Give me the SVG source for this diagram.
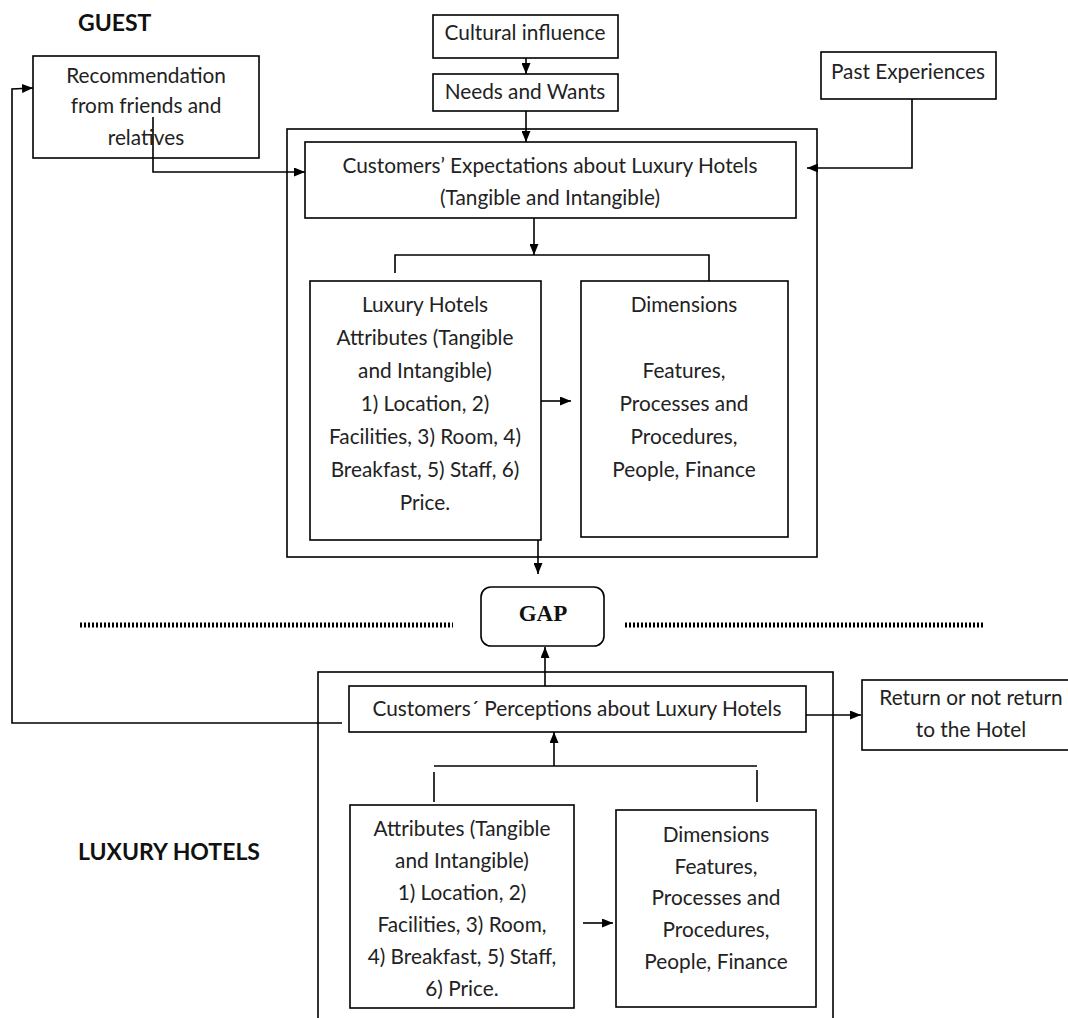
<svg xmlns="http://www.w3.org/2000/svg" width="1068" height="1018" viewBox="0 0 1068 1018">
<defs>
<style>
.box{fill:#fff;stroke:#000;stroke-width:1.6}
.frame{fill:none;stroke:#000;stroke-width:1.6}
.t{font-family:Lato,"Liberation Sans",sans-serif;font-size:20.8px;fill:#222;text-anchor:middle}
.h{font-family:Lato,"Liberation Sans",sans-serif;font-size:23px;font-weight:bold;fill:#111}
.gap{font-family:"Liberation Serif",serif;font-size:23px;font-weight:bold;fill:#111;text-anchor:middle}
.c{fill:none;stroke:#000;stroke-width:1.6}
.dot{fill:none;stroke:#000;stroke-width:5;stroke-dasharray:2 2}
</style>
<marker id="ah" viewBox="0 0 11 9" refX="11" refY="4.5" markerWidth="11" markerHeight="9" markerUnits="userSpaceOnUse" orient="auto">
<path d="M0,0 L11,4.5 L0,9 z" fill="#000"/>
</marker>
</defs>
<rect width="1068" height="1018" fill="#fff"/>

<g id="labels">
<text class="h" x="78" y="31">GUEST</text>
<text class="h" x="78" y="860">LUXURY HOTELS</text>
</g>

<g id="frames">
<rect class="frame" x="287" y="129" width="530" height="428"/>
<rect class="frame" x="318" y="672" width="515" height="380"/>
</g>

<g id="recommendation">
<rect class="box" x="33" y="56" width="226" height="102"/>
<text class="t" x="146" y="83">Recommendation</text>
<text class="t" x="146" y="113">from friends and</text>
<text class="t" x="146" y="145">relatives</text>
</g>

<g id="cultural">
<rect class="box" x="433" y="15" width="185" height="43"/>
<text class="t" x="525" y="40">Cultural influence</text>
</g>

<g id="needs">
<rect class="box" x="433" y="74" width="185" height="37"/>
<text class="t" x="525" y="99">Needs and Wants</text>
</g>

<g id="past">
<rect class="box" x="821" y="52" width="175" height="47"/>
<text class="t" x="908" y="79">Past Experiences</text>
</g>

<g id="expectations">
<rect class="box" x="305" y="142" width="491" height="76"/>
<text class="t" x="550" y="173">Customers’ Expectations about Luxury Hotels</text>
<text class="t" x="550" y="205">(Tangible and Intangible)</text>
</g>

<g id="attributes-top">
<rect class="box" x="310" y="281" width="231" height="259"/>
<text class="t" x="425" y="312">Luxury Hotels</text>
<text class="t" x="425" y="345">Attributes (Tangible</text>
<text class="t" x="425" y="378">and Intangible)</text>
<text class="t" x="425" y="411">1) Location, 2)</text>
<text class="t" x="425" y="444">Facilities, 3) Room, 4)</text>
<text class="t" x="425" y="477">Breakfast, 5) Staff, 6)</text>
<text class="t" x="425" y="510">Price.</text>
</g>

<g id="dimensions-top">
<rect class="box" x="581" y="281" width="207" height="256"/>
<text class="t" x="684" y="312">Dimensions</text>
<text class="t" x="684" y="378">Features,</text>
<text class="t" x="684" y="411">Processes and</text>
<text class="t" x="684" y="444">Procedures,</text>
<text class="t" x="684" y="477">People, Finance</text>
</g>

<g id="gap">
<rect class="box" x="481" y="587" width="123" height="59" rx="10" ry="10"/>
<text class="gap" x="543" y="621">GAP</text>
</g>

<g id="perceptions">
<rect class="box" x="349" y="686" width="457" height="46"/>
<text class="t" x="577" y="716">Customers´ Perceptions about Luxury Hotels</text>
</g>

<g id="return">
<rect class="box" x="862" y="680" width="220" height="70"/>
<text class="t" x="971" y="705">Return or not return</text>
<text class="t" x="971" y="737">to the Hotel</text>
</g>

<g id="attributes-bottom">
<rect class="box" x="350" y="805" width="224" height="203"/>
<text class="t" x="462" y="836">Attributes (Tangible</text>
<text class="t" x="462" y="868">and Intangible)</text>
<text class="t" x="462" y="900">1) Location, 2)</text>
<text class="t" x="462" y="932">Facilities, 3) Room,</text>
<text class="t" x="462" y="964">4) Breakfast, 5) Staff,</text>
<text class="t" x="462" y="996">6) Price.</text>
</g>

<g id="dimensions-bottom">
<rect class="box" x="616" y="810" width="200" height="197"/>
<text class="t" x="716" y="842">Dimensions</text>
<text class="t" x="716" y="874">Features,</text>
<text class="t" x="716" y="905">Processes and</text>
<text class="t" x="716" y="937">Procedures,</text>
<text class="t" x="716" y="969">People, Finance</text>
</g>

<g id="connectors">
<path class="c" d="M526,58 V74" marker-end="url(#ah)"/>
<path class="c" d="M526,111 V142" marker-end="url(#ah)"/>
<path class="c" d="M153,117 V172 H305" marker-end="url(#ah)"/>
<path class="c" d="M912,99 V168 H807" marker-end="url(#ah)"/>
<path class="c" d="M534,218 V255" marker-end="url(#ah)"/>
<path class="c" d="M395,273 V255 H709 V281"/>
<path class="c" d="M541,401 H571" marker-end="url(#ah)"/>
<path class="c" d="M538,540 V574" marker-end="url(#ah)"/>
<path class="c" d="M545,686 V647" marker-end="url(#ah)"/>
<path class="c" d="M806,715 H861" marker-end="url(#ah)"/>
<path class="c" d="M342,723 H12 V89 L33,88" marker-end="url(#ah)"/>
<path class="c" d="M554,766 V732" marker-end="url(#ah)"/>
<path class="c" d="M434,766 H757"/>
<path class="c" d="M434,772 V802"/>
<path class="c" d="M757,770 V802"/>
<path class="c" d="M583,923 H613" marker-end="url(#ah)"/>
<path class="dot" d="M80,625 H453"/>
<path class="dot" d="M625,625 H984"/>
</g>
</svg>
